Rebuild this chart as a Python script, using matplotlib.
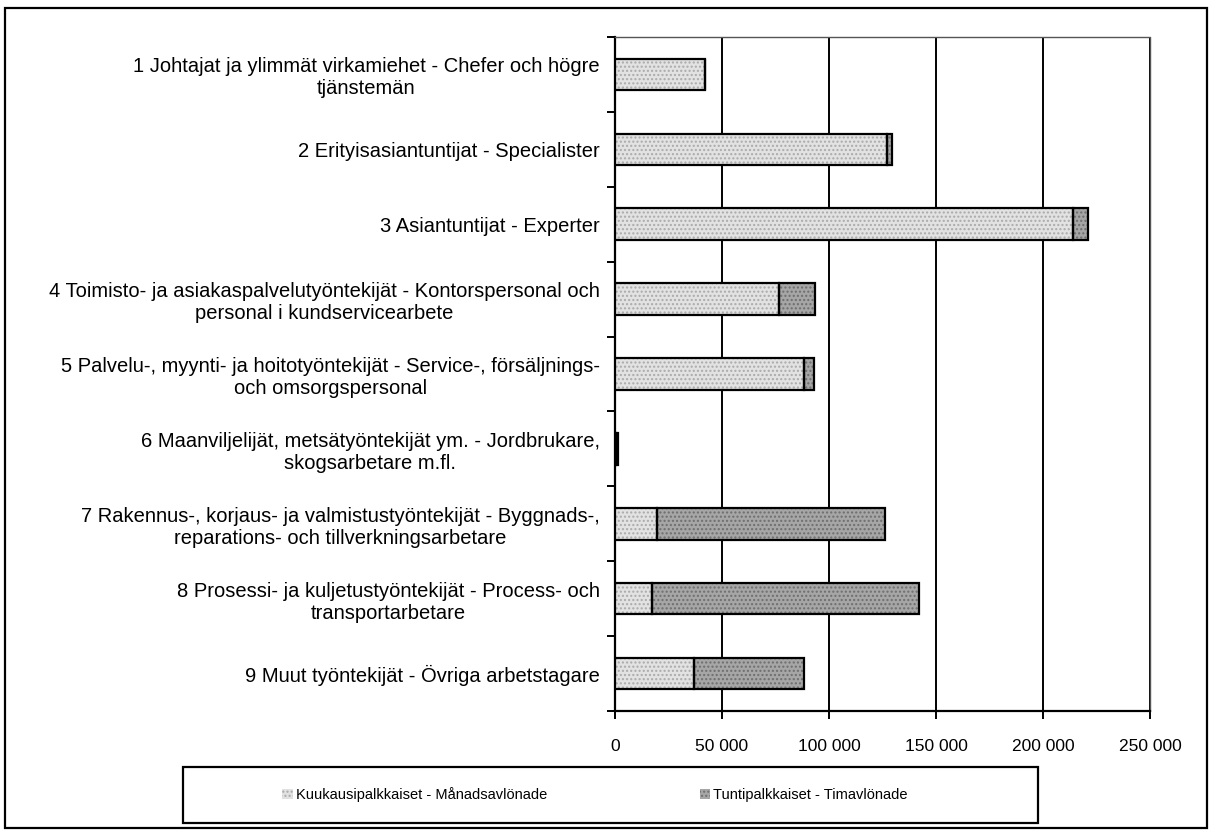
import matplotlib.pyplot as plt
import matplotlib.ticker as mticker
from matplotlib.patches import Rectangle
import numpy as np

plt.rcParams['font.family'] = ['Liberation Sans', 'DejaVu Sans']

categories = [
    "1 Johtajat ja ylimmät virkamiehet - Chefer och högre\ntjänstemän",
    "2 Erityisasiantuntijat - Specialister",
    "3 Asiantuntijat - Experter",
    "4 Toimisto- ja asiakaspalvelutyöntekijät - Kontorspersonal och\npersonal i kundservicearbete",
    "5 Palvelu-, myynti- ja hoitotyöntekijät - Service-, försäljnings-\noch omsorgspersonal",
    "6 Maanviljelijät, metsätyöntekijät ym. - Jordbrukare,\nskogsarbetare m.fl.",
    "7 Rakennus-, korjaus- ja valmistustyöntekijät - Byggnads-,\nreparations- och tillverkningsarbetare",
    "8 Prosessi- ja kuljetustyöntekijät - Process- och\ntransportarbetare",
    "9 Muut työntekijät - Övriga arbetstagare",
]
monthly = [42000, 127000, 214000, 76500, 88500, 300, 19500, 17500, 37000]
hourly = [0, 2300, 7000, 17000, 4300, 1000, 106500, 124500, 51500]
series_labels = ["Kuukausipalkkaiset - Månadsavlönade", "Tuntipalkkaiset - Timavlönade"]

fig = plt.figure(figsize=(12.12, 8.32), dpi=100)
ax = fig.add_axes([615 / 1212, 1 - 711 / 832, (1150 - 615) / 1212, (711 - 37) / 832])

y = np.arange(len(categories))
h = 0.42
# stippled look via dot hatching, black outline drawn on top
b1 = ax.barh(y, monthly, height=h, color='#e2e2e2', edgecolor='#aaaaaa', hatch='....', lw=0, zorder=3,
             label=series_labels[0])
b2 = ax.barh(y, hourly, left=monthly, height=h, color='#a6a6a6', edgecolor='#6e6e6e', hatch='....', lw=0,
             zorder=3, label=series_labels[1])
ax.barh(y, monthly, height=h, fill=False, edgecolor='black', lw=1.6, zorder=4)
ax.barh(y, hourly, left=monthly, height=h, fill=False, edgecolor='black', lw=1.6, zorder=4)

ax.set_xlim(0, 250000)
ax.set_ylim(len(categories) - 0.5, -0.5)
ax.xaxis.set_major_locator(mticker.MultipleLocator(50000))
ax.xaxis.set_major_formatter(mticker.FuncFormatter(lambda v, p: f"{int(v):,}".replace(",", " ")))
ax.grid(axis='x', color='black', lw=1.4, zorder=1)
ax.tick_params(axis='x', direction='out', length=6, width=1.4, pad=14, labelsize=12.5)

ax.set_yticks(y)
ax.set_yticklabels(categories, ha='right', multialignment='center', fontsize=14.5, linespacing=1.2)
ax.tick_params(axis='y', which='major', length=0, pad=11)
ax.set_yticks(np.arange(len(categories) + 1) - 0.5, minor=True)
ax.tick_params(axis='y', which='minor', direction='out', length=6, width=1.4)

for s in ['left', 'bottom']:
    ax.spines[s].set_linewidth(1.6)
for s in ['top', 'right']:
    ax.spines[s].set_linestyle((0, (1, 1)))
    ax.spines[s].set_color('#555555')
    ax.spines[s].set_linewidth(1.0)

# legend box
fig.patches.append(Rectangle((183 / 1212, 1 - 823 / 832), (1038 - 183) / 1212, (823 - 767) / 832,
                             transform=fig.transFigure, fill=False, edgecolor='black', lw=1.6))
fig.legend(handles=[b1, b2], labels=series_labels, loc='center',
           bbox_to_anchor=(595 / 1212, 1 - 795 / 832), ncol=2, frameon=False, fontsize=10.5,
           handlelength=0.7, handleheight=0.7, handletextpad=0.2, columnspacing=10.5)

# outer border
fig.patches.append(Rectangle((5 / 1212, 4 / 832), 1202 / 1212, 820 / 832, transform=fig.transFigure,
                             fill=False, edgecolor='black', lw=1.6))

fig.savefig('out.png', dpi=100)
